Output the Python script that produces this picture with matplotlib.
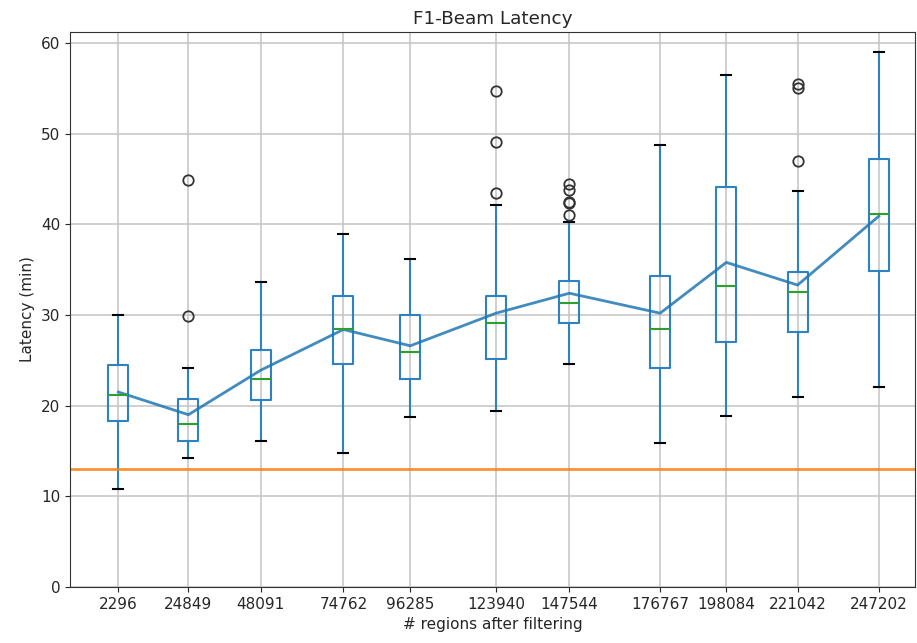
import matplotlib
matplotlib.use('Agg')
import matplotlib.pyplot as plt

regions = [2296, 24849, 48091, 74762, 96285, 123940, 147544, 176767, 198084, 221042, 247202]
whislo = [10.8, 14.2, 16.1, 14.8, 18.7, 19.4, 24.6, 15.9, 18.9, 21.0, 22.1]
q1 = [18.3, 16.1, 20.6, 24.6, 22.9, 25.1, 29.1, 24.2, 27.0, 28.1, 34.9]
med = [21.2, 18.0, 22.9, 28.5, 25.9, 29.1, 31.3, 28.5, 33.2, 32.5, 41.1]
q3 = [24.5, 20.7, 26.1, 32.1, 30.0, 32.1, 33.8, 34.3, 44.1, 34.7, 47.2]
whishi = [30.0, 24.2, 33.6, 38.9, 36.2, 42.1, 40.3, 48.8, 56.5, 43.7, 59.0]
fliers = [[], [29.9, 44.9], [], [], [], [43.4, 49.1, 54.7],
          [41.0, 42.3, 42.5, 43.8, 44.5], [], [], [47.0, 55.0, 55.5], []]
means = [21.5, 19.0, 23.9, 28.4, 26.6, 30.2, 32.4, 30.2, 35.8, 33.3, 40.9]
target = 13.0

stats = [dict(whislo=a, q1=b, med=c, q3=d, whishi=e, fliers=f)
         for a, b, c, d, e, f in zip(whislo, q1, med, q3, whishi, fliers)]

plt.rcParams.update({'font.size': 11, 'text.color': '#262626', 'axes.labelcolor': '#262626',
                     'xtick.color': '#262626', 'ytick.color': '#262626', 'axes.edgecolor': '#333333'})
fig = plt.figure(figsize=(9.17, 6.43), dpi=100)
ax = fig.add_axes([0.0763, 0.0871, 0.9217, 0.863])

lw = 1.5
ax.bxp(stats, positions=regions, widths=6400, manage_ticks=False,
       boxprops=dict(color='#2c82c2', lw=lw), whiskerprops=dict(color='#2c82c2', lw=lw),
       medianprops=dict(color='C2', lw=lw), capprops=dict(color='k', lw=lw),
       flierprops=dict(marker='o', markeredgecolor='#333333', markerfacecolor='none',
                       markersize=7.5, markeredgewidth=1.3))
ax.plot(regions, means, color='C0', lw=2, alpha=0.85)
ax.axhline(target, color='C1', lw=2, alpha=0.85)

ax.set_xticks(regions)
ax.set_xticklabels([str(r) for r in regions])
ax.set_xlim(-13300, 258900)
ax.set_ylim(0, 61.2)
ax.grid(True, color='#c4c4c4', lw=1.1)
ax.set_axisbelow(True)
ax.set_title('F1-Beam Latency')
ax.set_xlabel('# regions after filtering')
ax.set_ylabel('Latency (min)')

fig.savefig('out.png')
